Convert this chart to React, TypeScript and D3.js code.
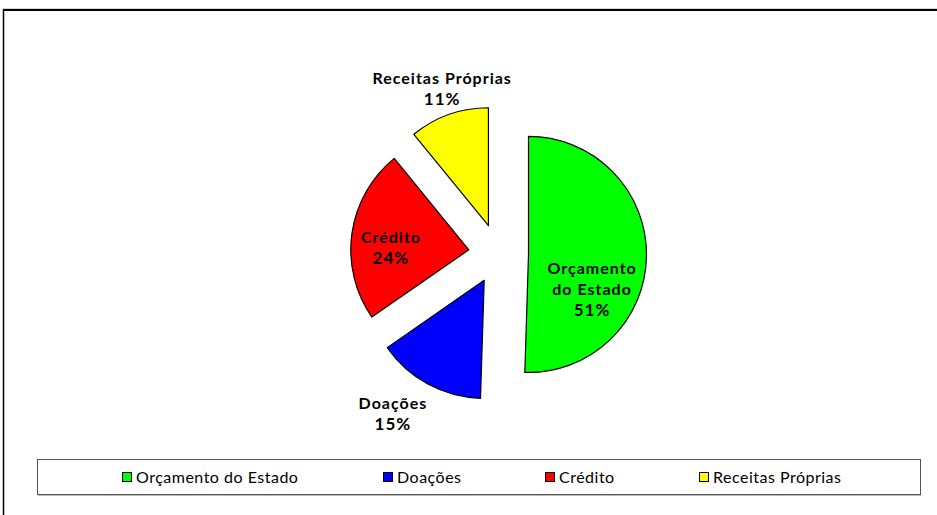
import React from 'react';
import * as d3 from 'd3';

const WIDTH = 937,
    HEIGHT = 515;

const categories = ['Orçamento do Estado', 'Doações', 'Crédito', 'Receitas Próprias'];
const shares = [51, 15, 24, 11];
const colors = ['#00FF00', '#0000FF', '#FF0000', '#FFFF00'];

// label lines inside / outside each slice
const labelLines = [
    ['Orçamento', 'do Estado', '51%'],
    ['Doações', '15%'],
    ['Crédito', '24%'],
    ['Receitas Próprias', '11%'],
];

const CENTER = { X: 498.5, Y: 254 };
const RADIUS = 118;
const EXPLODE = 30;
const FONT = 'Lato, "DejaVu Sans", sans-serif';

// label placement: angle nudge (rad) from slice bisector and distance as fraction of radius
const labelAngleShift = [0.482, 0.1, -0.11, 0.016];
const labelRadius = [0.613, 1.374, 0.66, 1.224];

const App = () => {
    const pie = d3.pie<number>().sort(null).value(d => d);
    const arcs = pie(shares);
    const arc = d3.arc<d3.PieArcDatum<number>>().innerRadius(0).outerRadius(RADIUS);

    const legendX = [122, 383, 545, 699];

    return (
        <div>
            <style>{`body{margin:0}`}</style>
            <svg width={WIDTH} height={HEIGHT} style={{ display: 'block' }}>
                <rect width={WIDTH} height={HEIGHT} fill='#fff' />
                {/* frame */}
                <line x1={3} x2={WIDTH} y1={8.5} y2={8.5} stroke='#d8d8d8' strokeWidth={1} />
                <line x1={3} x2={WIDTH} y1={10} y2={10} stroke='#000' strokeWidth={2} />
                <line x1={3.5} x2={3.5} y1={9} y2={HEIGHT} stroke='#000' strokeWidth={1.5} />

                {arcs.map((a, i) => {
                    const mid = (a.startAngle + a.endAngle) / 2;
                    const dx = Math.sin(mid) * EXPLODE,
                        dy = -Math.cos(mid) * EXPLODE;
                    const la = mid + labelAngleShift[i];
                    const lx = Math.sin(la) * RADIUS * labelRadius[i],
                        ly = -Math.cos(la) * RADIUS * labelRadius[i];
                    const lines = labelLines[i];
                    return (
                        <g key={`slice-${i}`} transform={`translate(${CENTER.X + dx},${CENTER.Y + dy})`}>
                            <path d={arc(a) || ''} fill={colors[i]} stroke='#000' strokeWidth={1.2} strokeLinejoin='round' />
                            <text x={lx} y={ly - (lines.length - 1) * 10.5} textAnchor='middle'
                                style={{ fontFamily: FONT, fontWeight: 700, fontSize: '16px', letterSpacing: '1px' }}>
                                {lines.map((l, j) => (
                                    <tspan key={j} x={lx} dy={j === 0 ? '0.35em' : 21}
                                        style={{ fontSize: j === lines.length - 1 ? '17px' : undefined }}>{l}</tspan>
                                ))}
                            </text>
                        </g>
                    );
                })}

                {/* legend */}
                <rect x={37.5} y={459.5} width={883} height={35} fill='#fff' stroke='#555' strokeWidth={1} />
                <line x1={38} x2={921} y1={495.5} y2={495.5} stroke='#bbb' strokeWidth={1} />
                {categories.map((c, i) => (
                    <g key={`legend-${i}`} transform={`translate(${legendX[i]},477)`}>
                        <rect x={0.5} y={-4.5} width={9} height={9} fill={colors[i]} stroke='#000' strokeWidth={1} />
                        <text x={14} y={0} dy='0.35em' style={{ fontFamily: FONT, fontSize: '16px', letterSpacing: '0.5px' }}>{c}</text>
                    </g>
                ))}
            </svg>
        </div>
    );
};

export default App;
